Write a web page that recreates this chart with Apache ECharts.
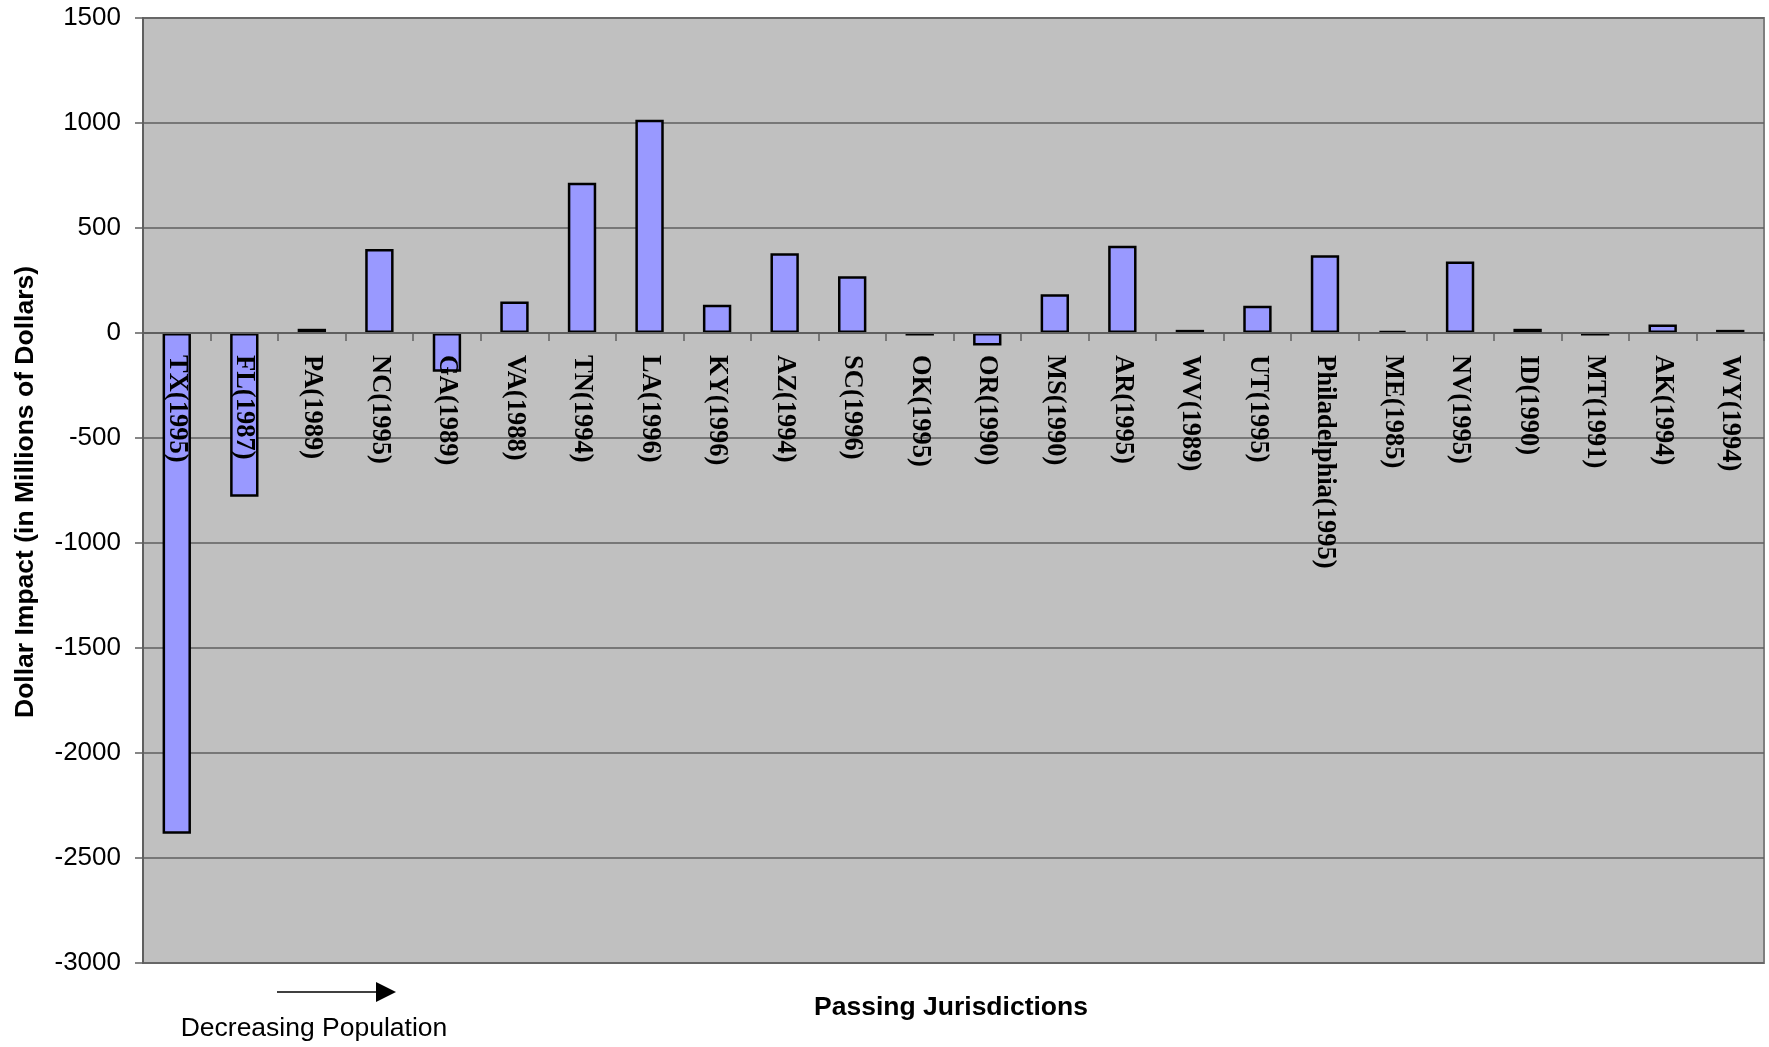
<!DOCTYPE html>
<html>
<head>
<meta charset="utf-8">
<script src="https://cdn.jsdelivr.net/npm/echarts@6/dist/echarts.min.js"></script>
<style>
html,body{margin:0;padding:0;background:#fff;}
#chart{width:1769px;height:1047px;}
</style>
</head>
<body>
<div id="chart"></div>
<script>
const categories = ["TX(1995)","FL(1987)","PA(1989)","NC(1995)","GA(1989)","VA(1988)","TN(1994)","LA(1996)","KY(1996)","AZ(1994)","SC(1996)","OK(1995)","OR(1990)","MS(1990)","AR(1995)","WV(1989)","UT(1995)","Philadelphia(1995)","ME(1985)","NV(1995)","ID(1990)","MT(1991)","AK(1994)","WY(1994)"];
const dollarImpact = [-2385,-780,20,400,-185,150,715,1015,135,380,270,-12,-60,185,415,15,130,370,10,340,20,-12,40,15];
const yMin = -3000, yMax = 1500, yStep = 500;
const yTitle = "Dollar Impact (in Millions of Dollars)";
const xTitle = "Passing Jurisdictions";
const noteText = "Decreasing Population";

const gridTop = 18, gridHeight = 945;
const chart = echarts.init(document.getElementById('chart'), null, {renderer:'canvas'});
chart.setOption({
  animation:false,
  backgroundColor:'#ffffff',
  grid:{left:143,top:gridTop,width:1621,height:gridHeight,outerBoundsMode:'none',containLabel:false,show:true,backgroundColor:'#c0c0c0',borderColor:'#7f7f7f',borderWidth:2},
  xAxis:{
    type:'category',data:categories,z:3,offset:0,
    axisLine:{show:true,onZero:false,lineStyle:{color:'#5f5f5f',width:2}},
    axisTick:{show:true,length:8,lineStyle:{color:'#5f5f5f',width:1.5}},
    axisLabel:{interval:0,rotate:-90,margin:22,color:'#000',fontFamily:'Liberation Serif, Times New Roman, serif',fontWeight:'bold',fontSize:26.5,hideOverlap:false},
    splitLine:{show:false}
  },
  yAxis:{
    type:'value',min:yMin,max:yMax,interval:yStep,
    axisLine:{show:true,lineStyle:{color:'#5f5f5f',width:2}},
    axisTick:{show:true,length:8,lineStyle:{color:'#5f5f5f',width:1.5}},
    axisLabel:{margin:22,color:'#000',fontFamily:'Liberation Sans, Arial, sans-serif',fontSize:26,formatter:function(v){return String(v);}},
    splitLine:{show:true,lineStyle:{color:'#5f5f5f',width:1.5}}
  },
  series:[{
    type:'bar',data:dollarImpact,barWidth:'42%',
    itemStyle:{color:'#9999ff',borderColor:'#000',borderWidth:2.5}
  }],
  graphic:[
    {type:'text',x:26,y:492,rotation:Math.PI/2,style:{text:yTitle,fill:'#000',font:'bold 26.5px "Liberation Sans", Arial, sans-serif',textAlign:'center',textVerticalAlign:'middle'}},
    {type:'text',x:951,y:1008,style:{text:xTitle,fill:'#000',font:'bold 26.5px "Liberation Sans", Arial, sans-serif',textAlign:'center',textVerticalAlign:'middle'}},
    {type:'text',x:314,y:1029,style:{text:noteText,fill:'#000',font:'26.5px "Liberation Sans", Arial, sans-serif',textAlign:'center',textVerticalAlign:'middle'}},
    {type:'line',shape:{x1:277,y1:992,x2:378,y2:992},style:{stroke:'#000',lineWidth:1.5}},
    {type:'polygon',shape:{points:[[376,982],[396,992],[376,1002]]},style:{fill:'#000'}}
  ]
});
// move the category axis (line, ticks, labels) to the zero value line
const zeroY = chart.convertToPixel({yAxisIndex:0}, 0);
chart.setOption({xAxis:{offset:-((gridTop + gridHeight) - zeroY)}});
</script>
</body>
</html>
